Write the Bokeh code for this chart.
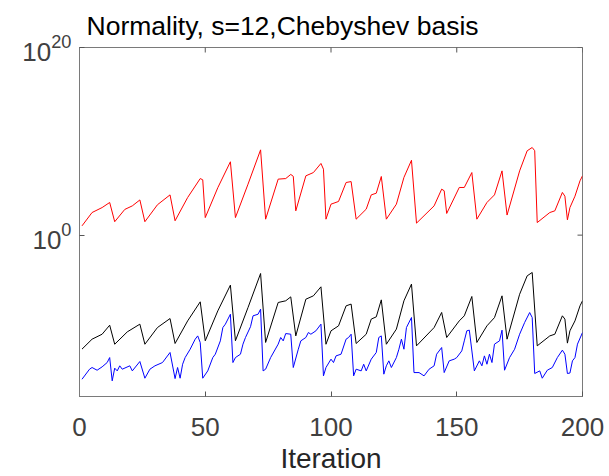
import math
from bokeh.plotting import figure
from bokeh.models import FixedTicker, Range1d
from bokeh.embed import file_html
from bokeh.resources import INLINE

# ---- data (log10 of the plotted quantity) ----
red_iter = [1, 5, 9, 12, 14, 18, 21, 24, 26, 31, 36, 38, 43, 48, 49, 50, 55, 60, 62, 67, 72, 74,
            79, 82, 84, 85, 86, 90, 93, 96, 97, 98, 100, 103, 106, 108, 110, 114, 116, 118, 120,
            122, 126, 129, 132, 134, 141, 144, 145, 146, 151, 153, 156, 158, 162, 165, 168, 170,
            175, 178, 180, 181, 182, 187, 189, 192, 193, 194, 195, 197, 199, 200]
red_exp = [0.99, 2.41, 2.94, 3.48, 1.43, 2.74, 3.12, 3.75, 1.43, 3.24, 4.29, 1.53, 4.01, 6.03, 5.9,
           1.87, 5.06, 7.82, 1.87, 5.43, 9.09, 1.70, 5.97, 6.03, 6.47, 6.27, 2.59, 6.32, 6.67, 7.64,
           7.03, 1.70, 3.30, 3.59, 5.61, 5.71, 1.70, 2.77, 4.29, 4.47, 6.25, 1.70, 3.30, 6.15, 7.98,
           1.28, 3.12, 4.90, 4.73, 2.31, 5.08, 5.08, 6.67, 1.70, 3.48, 4.29, 6.85, 2.14, 6.85, 8.99,
           9.34, 9.0, 1.34, 2.41, 2.59, 4.55, 4.15, 1.63, 2.94, 4.15, 5.79, 6.32]

black_iter = [1, 5, 9, 12, 14, 19, 24, 26, 31, 36, 38, 43, 48, 50, 55, 60, 62, 67, 72, 74, 79, 82,
              84, 86, 90, 93, 96, 98, 100, 103, 106, 108, 110, 114, 116, 118, 120, 122, 126, 129,
              132, 134, 141, 144, 146, 151, 153, 156, 158, 162, 165, 168, 170, 175, 178, 180, 182,
              187, 189, 192, 193, 194, 195, 197, 199, 200]
black_exp = [-12.15, -11.09, -10.56, -9.60, -11.63, -10.31, -9.49, -11.63, -9.85, -8.89, -11.55,
             -9.14, -7.11, -11.26, -8.07, -5.33, -11.26, -7.72, -4.09, -11.44, -7.18, -7.0, -6.58,
             -10.74, -6.83, -6.47, -5.51, -11.63, -10.20, -9.67, -7.54, -7.35, -11.55, -10.56,
             -8.95, -8.71, -6.90, -11.63, -10.02, -7.00, -5.22, -11.80, -9.85, -8.24, -10.91,
             -9.14, -8.60, -6.54, -11.44, -9.67, -8.79, -6.47, -11.09, -6.30, -4.34, -3.98,
             -11.80, -10.74, -10.56, -8.60, -8.95, -11.51, -10.20, -9.14, -7.54, -7.00]

blue_iter = [1, 4, 5, 7, 9, 11, 12, 13, 14, 15, 16, 17, 20, 21, 24, 26, 28, 30, 33, 36, 38, 39,
             40, 41, 42, 44, 46, 47, 48, 49, 51, 53, 54, 56, 57, 58, 60, 61, 62, 64, 65, 66, 68,
             69, 71, 72, 73, 74, 76, 79, 80, 81, 82, 84, 85, 87, 88, 90, 91, 92, 94, 96, 97, 98,
             100, 101, 102, 104, 106, 107, 108, 109, 110, 112, 113, 114, 116, 118, 119, 120, 121,
             122, 123, 124, 126, 127, 128, 129, 130, 132, 133, 135, 137, 139, 141, 142, 144, 145,
             147, 149, 150, 152, 153, 154, 155, 157, 159, 160, 161, 162, 163, 164, 165, 167, 168,
             169, 171, 173, 175, 177, 179, 180, 181, 183, 184, 186, 188, 190, 192, 193, 194, 195,
             196, 197, 198, 200]
blue_exp = [-15.36, -14.29, -14.11, -14.40, -14.04, -13.58, -13.05, -15.53, -14.18, -14.47, -13.93,
            -14.29, -13.93, -14.47, -13.47, -15.25, -14.29, -13.93, -13.58, -12.51, -15.29, -14.11,
            -15.25, -13.76, -13.05, -12.16, -11.09, -10.74, -11.45, -15.25, -14.47, -13.05, -12.69,
            -11.27, -9.85, -9.49, -8.43, -13.58, -13.05, -12.69, -11.62, -10.91, -9.76, -8.60,
            -8.43, -7.89, -14.47, -14.29, -13.05, -11.62, -10.91, -11.27, -10.49, -10.56, -14.11,
            -12.16, -11.27, -10.91, -10.38, -10.56, -10.20, -9.49, -15.0, -14.11, -13.22, -13.58,
            -12.87, -12.69, -11.09, -10.91, -10.56, -15.0, -14.29, -14.47, -13.76, -14.47, -13.22,
            -12.51, -10.91, -10.74, -14.82, -13.93, -13.40, -14.11, -13.05, -12.16, -11.09, -12.16,
            -9.85, -8.78, -14.65, -14.65, -15.0, -14.29, -13.93, -12.69, -11.98, -14.65, -13.40,
            -13.22, -13.05, -12.34, -11.27, -10.20, -10.13, -14.47, -13.40, -13.93, -12.87, -13.76,
            -12.69, -13.58, -11.62, -11.27, -10.13, -14.40, -13.05, -12.16, -10.56, -9.31, -8.25,
            -8.78, -14.75, -14.47, -15.25, -14.40, -14.11, -13.05, -12.26, -12.69, -14.75, -14.70,
            -13.40, -13.05, -11.62, -10.38]

x_ticks = [0, 50, 100, 150, 200]
y_ticks = [1e0, 1e20]
x_min, x_max = 0, 200
y_min, y_max = 10 ** -17.2, 1e20
x_label = "Iteration"
title = "Normality, s=12,Chebyshev basis"

FONT = "Liberation Sans"
AX = "#262626"
FRAME = "#7a7a7a"
TICK = "#555555"

p = figure(width=609, height=476, output_backend="svg", toolbar_location=None,
           y_axis_type="log", x_range=Range1d(x_min, x_max), y_range=Range1d(y_min, y_max),
           min_border_left=79, min_border_right=27, min_border_top=47, min_border_bottom=80)

p.title.text = title
p.title.text_font = FONT
p.title.text_font_size = "26.5px"
p.title.text_font_style = "normal"
p.title.text_color = "#000000"
p.title.align = "left"
p.title.offset = 7
p.title.standoff = 14

p.grid.visible = False
p.outline_line_color = FRAME
p.outline_line_width = 1

p.line(red_iter, [10 ** e for e in red_exp], line_color="#ff0000", line_width=1)
p.line(black_iter, [10 ** e for e in black_exp], line_color="#000000", line_width=1)
p.line(blue_iter, [10 ** e for e in blue_exp], line_color="#0000ff", line_width=1)

# inward tick marks on the top and right edges (box style)
p.scatter(x_ticks, [y_max] * len(x_ticks), marker="dash", angle=math.pi / 2, size=10,
          line_color=TICK, line_width=1)
p.scatter([x_max] * len(y_ticks), y_ticks, marker="dash", size=10, line_color=TICK, line_width=1)

for ax in (p.xaxis[0], p.yaxis[0]):
    ax.axis_line_color = FRAME
    ax.major_tick_line_color = TICK
    ax.major_tick_in = 5
    ax.major_tick_out = 0
    ax.minor_tick_line_color = None
    ax.major_label_text_font = FONT
    ax.major_label_text_font_size = "26px"
    ax.major_label_text_color = "#404040"

p.xaxis[0].ticker = FixedTicker(ticks=x_ticks)
p.yaxis[0].ticker = FixedTicker(ticks=y_ticks)
p.xaxis[0].major_label_standoff = 21
p.yaxis[0].major_label_standoff = 8
p.xaxis[0].axis_label = x_label
p.xaxis[0].axis_label_text_font = FONT
p.xaxis[0].axis_label_text_font_size = "28px"
p.xaxis[0].axis_label_text_font_style = "normal"
p.xaxis[0].axis_label_text_color = AX
p.xaxis[0].axis_label_standoff = 4

open("out.html", "w").write(file_html(p, INLINE))
